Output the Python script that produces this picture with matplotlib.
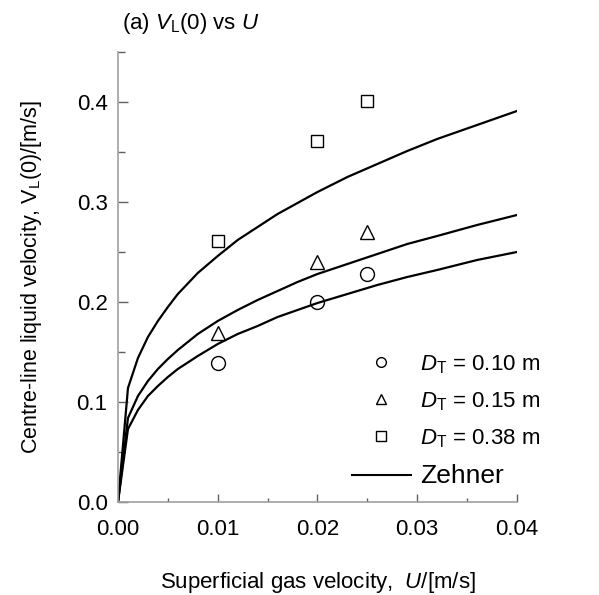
import matplotlib
matplotlib.use("Agg")
import matplotlib.pyplot as plt
from matplotlib.ticker import MultipleLocator
from matplotlib.lines import Line2D

plt.rcParams['font.family'] = ['Liberation Sans', 'DejaVu Sans']
plt.rcParams['mathtext.fontset'] = 'custom'
plt.rcParams['mathtext.rm'] = 'Liberation Sans'
plt.rcParams['mathtext.it'] = 'Liberation Sans:italic'

# Measured data
U_meas = [0.010, 0.020, 0.025]
V_d010 = [0.139, 0.200, 0.228]
V_d015 = [0.169, 0.240, 0.270]
V_d038 = [0.261, 0.361, 0.401]

# Zehner curves
U_curve = [0.0, 0.001, 0.002, 0.003, 0.004, 0.005, 0.006, 0.008, 0.010, 0.012,
           0.014, 0.016, 0.018, 0.020, 0.023, 0.026, 0.029, 0.032, 0.036, 0.040]
Z_d038 = [0.0, 0.114, 0.144, 0.165, 0.181, 0.195, 0.208, 0.229, 0.246, 0.262,
          0.275, 0.288, 0.299, 0.310, 0.325, 0.338, 0.351, 0.363, 0.377, 0.391]
Z_d015 = [0.0, 0.084, 0.106, 0.121, 0.133, 0.143, 0.152, 0.168, 0.181, 0.192,
          0.202, 0.211, 0.220, 0.228, 0.238, 0.248, 0.258, 0.266, 0.277, 0.287]
Z_d010 = [0.0, 0.073, 0.092, 0.106, 0.116, 0.125, 0.133, 0.146, 0.158, 0.168,
          0.176, 0.185, 0.192, 0.199, 0.208, 0.217, 0.225, 0.232, 0.242, 0.250]

x_ticks = [0.00, 0.01, 0.02, 0.03, 0.04]
x_ticklabels = ['0.00', '0.01', '0.02', '0.03', '0.04']
y_ticks = [0.0, 0.1, 0.2, 0.3, 0.4]
y_ticklabels = ['0.0', '0.1', '0.2', '0.3', '0.4']

fig = plt.figure(figsize=(5.99, 5.95), dpi=100)
ax = fig.add_axes([0.197, 0.1563, 0.666, 0.7563])

for z in (Z_d038, Z_d015, Z_d010):
    ax.plot(U_curve, z, color='black', lw=1.6, solid_joinstyle='miter')

mk = dict(linestyle='none', markerfacecolor='none', markeredgecolor='black',
          markeredgewidth=1.0, clip_on=False)
ax.plot(U_meas, V_d010, marker='o', markersize=10, **mk)
ax.plot(U_meas, V_d015, marker='^', markersize=10, **mk)
ax.plot(U_meas, V_d038, marker='s', markersize=9, **mk)

ax.set_xlim(0, 0.04)
ax.set_ylim(0, 0.45)
ax.set_xticks(x_ticks)
ax.set_xticklabels(x_ticklabels)
ax.set_yticks(y_ticks)
ax.set_yticklabels(y_ticklabels)
ax.xaxis.set_minor_locator(MultipleLocator(0.005))
ax.yaxis.set_minor_locator(MultipleLocator(0.05))

for s in ('top', 'right'):
    ax.spines[s].set_visible(False)
for s in ('left', 'bottom'):
    ax.spines[s].set_color('#a0a0a0')
    ax.spines[s].set_linewidth(1.2)

ax.tick_params(axis='x', which='major', direction='in', length=6, width=1.0,
               color='#606060', labelsize=16, pad=12)
ax.tick_params(axis='y', which='major', direction='in', length=7, width=1.0,
               color='#606060', labelsize=16, pad=7.5)
ax.tick_params(axis='x', which='minor', direction='in', length=3, width=1.0, color='#606060')
ax.tick_params(axis='y', which='minor', direction='in', length=5, width=1.0, color='#606060')

ax.set_xlabel(r'Superficial gas velocity,  $\it{U}$/[m/s]', fontsize=16, labelpad=22)
ax.set_ylabel(r'Centre-line liquid velocity, V$_\mathrm{L}$(0)/[m/s]', fontsize=15.5, labelpad=23.5)

fig.text(0.204, 1 - 24 / 595, r'(a) $\it{V}_\mathrm{L}$(0) vs $\it{U}$', fontsize=16,
         ha='left', va='center')

handles = [
    Line2D([], [], marker='o', markersize=7, **mk),
    Line2D([], [], marker='^', markersize=7, **mk),
    Line2D([], [], marker='s', markersize=6.5, **mk),
    Line2D([], [], color='black', lw=1.5),
]
labels = [r'$\it{D}_\mathrm{T}$ = 0.10 m', r'$\it{D}_\mathrm{T}$ = 0.15 m',
          r'$\it{D}_\mathrm{T}$ = 0.38 m', 'Zehner']
leg = fig.legend(handles, labels, loc='upper left', bbox_to_anchor=(352 / 599, 1 - 353 / 595),
                 bbox_transform=fig.transFigure, frameon=False, fontsize=16,
                 handlelength=2.65, handletextpad=0.4, labelspacing=0.65,
                 borderaxespad=0.0, borderpad=0.0)
texts = leg.get_texts()
texts[3].set_fontsize(19)

fig.savefig('out.png', dpi=100)
